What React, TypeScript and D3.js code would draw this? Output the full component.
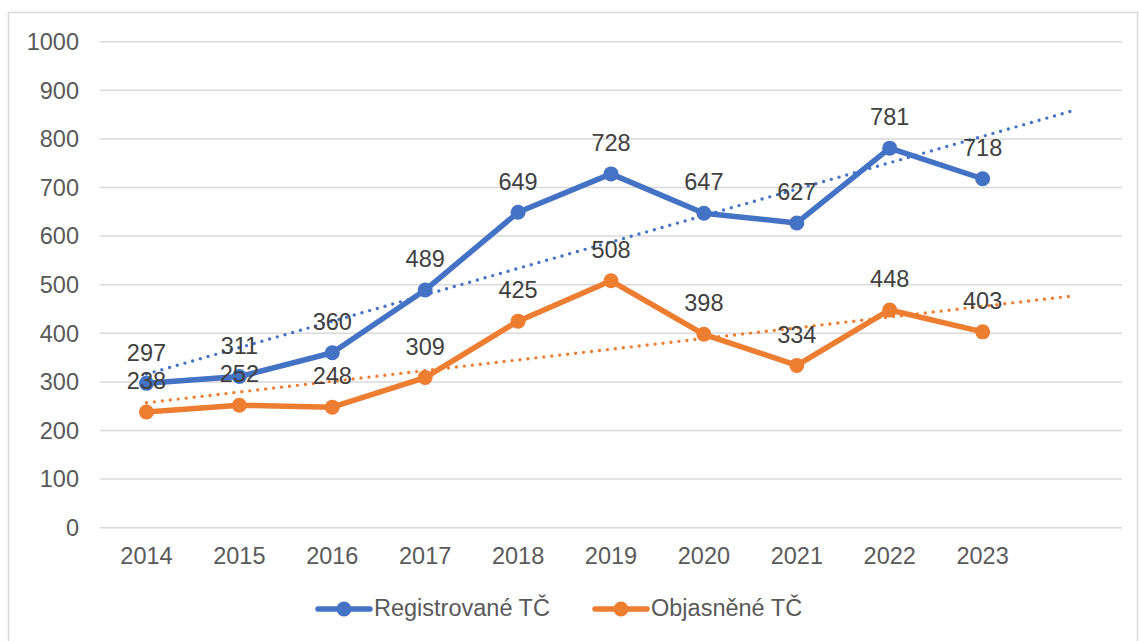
import React from "react";
import * as d3 from "d3";

const categories = ["2014", "2015", "2016", "2017", "2018", "2019", "2020", "2021", "2022", "2023"];
const registrovane = [297, 311, 360, 489, 649, 728, 647, 627, 781, 718];
const objasnene = [238, 252, 248, 309, 425, 508, 398, 334, 448, 403];
const yTicks = [0, 100, 200, 300, 400, 500, 600, 700, 800, 900, 1000];
const seriesNames = ["Registrované TČ", "Objasněné TČ"];
const forecastForward = 0.94;

const W = 1139;
const H = 641;
const FONT = "'Liberation Sans', Arial, sans-serif";
const TEXT = "#595959";
const GRID = "#D9D9D9";
const BLUE = "#4472C4";
const ORANGE = "#ED7D31";

function trend(vals: number[]) {
  const n = vals.length;
  const xs = vals.map((_, i) => i);
  const mx = d3.mean(xs)!;
  const my = d3.mean(vals)!;
  let sxy = 0, sxx = 0;
  xs.forEach((x, i) => { sxy += (x - mx) * (vals[i] - my); sxx += (x - mx) * (x - mx); });
  const b = sxy / sxx;
  const a = my - b * mx;
  return [{ x: 0, y: a }, { x: n - 1 + forecastForward, y: a + b * (n - 1 + forecastForward) }];
}

export default function App() {
  const left = 100, right = 1122, top = 41.7, bottom = 527.7;
  const nBands = categories.length + 1;
  const x = d3.scaleLinear().domain([0, nBands]).range([left, right]);
  const cx = (i: number) => x(i + 0.5);
  const y = d3.scaleLinear().domain([0, 1000]).range([bottom, top]);
  const line = d3.line<number>().x((_, i) => cx(i)).y((v) => y(v));
  const tline = d3.line<{ x: number; y: number }>().x((d) => cx(d.x)).y((d) => y(d.y));
  const series = [
    { name: seriesNames[0], vals: registrovane, color: BLUE },
    { name: seriesNames[1], vals: objasnene, color: ORANGE },
  ];
  const fs = 23.5;
  const legend = [
    { x0: 318, color: BLUE, name: seriesNames[0] },
    { x0: 595, color: ORANGE, name: seriesNames[1] },
  ];
  return (
    <svg width={W} height={H} style={{ position: "absolute", left: 0, top: 0 }} fontFamily={FONT}>
      <rect x={0} y={0} width={W} height={H} fill="#fff" />
      <rect x={8.5} y={12.5} width={1129} height={640} fill="#fff" stroke={GRID} strokeWidth={1.5} />
      {yTicks.map((t) => (
        <g key={t}>
          <line x1={left} x2={right} y1={y(t)} y2={y(t)} stroke={GRID} strokeWidth={1.5} />
          <text x={79} y={y(t)} dy="0.35em" textAnchor="end" fontSize={fs} fill={TEXT}>{t}</text>
        </g>
      ))}
      {categories.map((c, i) => (
        <text key={c} x={cx(i)} y={556} dy="0.35em" textAnchor="middle" fontSize={fs} fill={TEXT}>{c}</text>
      ))}
      {series.map((s) => (
        <g key={s.name}>
          <path d={line(s.vals)!} fill="none" stroke={s.color} strokeWidth={5.5} strokeLinejoin="round" strokeLinecap="round" />
          {s.vals.map((v, i) => (
            <circle key={i} cx={cx(i)} cy={y(v)} r={7.5} fill={s.color} />
          ))}
        </g>
      ))}
      {series.map((s) => (
        <path key={s.name + "t"} d={tline(trend(s.vals))!} fill="none" stroke={s.color} strokeWidth={3.4} strokeDasharray="0 8" strokeLinecap="round" />
      ))}
      {series.map((s) => (
        <g key={s.name + "l"}>
          {s.vals.map((v, i) => (
            <text key={i} x={cx(i)} y={y(v) - 31} dy="0.35em" textAnchor="middle" fontSize={fs} fill="#404040">{v}</text>
          ))}
        </g>
      ))}
      {legend.map((l) => (
        <g key={l.name}>
          <line x1={l.x0} x2={l.x0 + 52} y1={609} y2={609} stroke={l.color} strokeWidth={5.5} strokeLinecap="round" />
          <circle cx={l.x0 + 26} cy={609} r={7.5} fill={l.color} />
          <text x={l.x0 + 56} y={608} dy="0.35em" fontSize={fs} fill={TEXT}>{l.name}</text>
        </g>
      ))}
    </svg>
  );
}
